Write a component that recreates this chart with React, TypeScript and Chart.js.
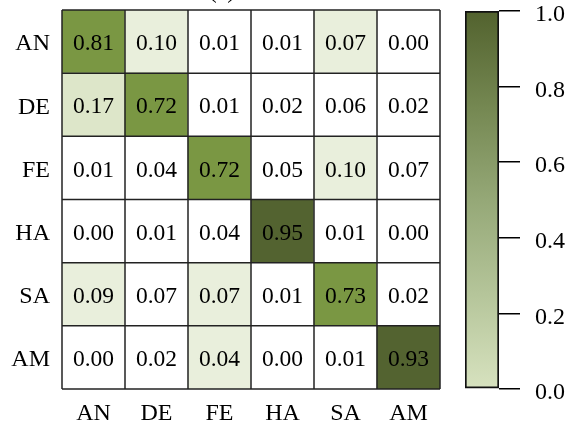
import React, { useEffect, useRef } from "react";
import { Chart, registerables } from "chart.js";

Chart.register(...registerables);

const rowLabels = ["AN", "DE", "FE", "HA", "SA", "AM"];
const colLabels = ["AN", "DE", "FE", "HA", "SA", "AM"];

const values: number[][] = [
  [0.81, 0.10, 0.01, 0.01, 0.07, 0.00],
  [0.17, 0.72, 0.01, 0.02, 0.06, 0.02],
  [0.01, 0.04, 0.72, 0.05, 0.10, 0.07],
  [0.00, 0.01, 0.04, 0.95, 0.01, 0.00],
  [0.09, 0.07, 0.07, 0.01, 0.73, 0.02],
  [0.00, 0.02, 0.04, 0.00, 0.01, 0.93],
];

// shade level of each cell as seen in the picture
const shades: number[][] = [
  [3, 1, 0, 0, 1, 0],
  [2, 3, 0, 0, 0, 0],
  [0, 0, 3, 0, 1, 0],
  [0, 0, 0, 4, 0, 0],
  [1, 0, 1, 0, 3, 0],
  [0, 0, 1, 0, 0, 4],
];
const shadeColors = ["#ffffff", "#e9efdc", "#dde6c9", "#7a9743", "#536330"];

const cbTicks = [0, 0.2, 0.4, 0.6, 0.8, 1.0];
const cbStops: [number, string][] = [
  [0, "#d7e2bf"],
  [0.25, "#b5c59a"],
  [0.5, "#95a877"],
  [0.75, "#748751"],
  [1, "#52622e"],
];

const FONT = "Liberation Serif";

export default function App() {
  const heatRef = useRef<HTMLCanvasElement>(null);
  const cbRef = useRef<HTMLCanvasElement>(null);

  useEffect(() => {
    const n = rowLabels.length;
    // datasets from bottom row to top row (stacked)
    const datasets = rowLabels
      .map((r, i) => ({
        label: r,
        data: colLabels.map(() => 1),
        vals: values[i],
        backgroundColor: shades[i].map((s) => shadeColors[s]),
        borderWidth: 0,
        barPercentage: 1,
        categoryPercentage: 1,
      }))
      .reverse();

    const gridPlugin = {
      id: "cellGrid",
      afterDatasetsDraw(chart: any) {
        const ctx = chart.ctx;
        const xs = chart.scales.x;
        const ys = chart.scales.y;
        ctx.save();
        // cell texts
        ctx.fillStyle = "#000";
        ctx.font = `23.5px "${FONT}"`;
        ctx.textAlign = "center";
        ctx.textBaseline = "middle";
        chart.data.datasets.forEach((ds: any, di: number) => {
          const meta = chart.getDatasetMeta(di);
          meta.data.forEach((bar: any, ci: number) => {
            const p = bar.getCenterPoint();
            ctx.fillText(ds.vals[ci].toFixed(2), p.x, p.y + 2.5);
          });
        });
        // cell borders
        ctx.strokeStyle = "#222";
        ctx.lineWidth = 1.5;
        const top = ys.getPixelForValue(n);
        const bot = ys.getPixelForValue(0);
        const left = xs.getPixelForValue(-0.5);
        const right = xs.getPixelForValue(colLabels.length - 0.5);
        for (let i = 0; i <= colLabels.length; i++) {
          const x = xs.getPixelForValue(i - 0.5);
          ctx.beginPath();
          ctx.moveTo(x, top);
          ctx.lineTo(x, bot);
          ctx.stroke();
        }
        for (let j = 0; j <= n; j++) {
          const y = ys.getPixelForValue(j);
          ctx.beginPath();
          ctx.moveTo(left, y);
          ctx.lineTo(right, y);
          ctx.stroke();
        }
        // title, cut by the top edge as in the source
        ctx.font = `24px "${FONT}"`;
        ctx.textBaseline = "alphabetic";
        ctx.fillText("(a)", 222, -2);
        ctx.restore();
      },
    };

    const heat = new Chart(heatRef.current!, {
      type: "bar",
      data: { labels: colLabels, datasets: datasets as any },
      options: {
        animation: false,
        responsive: false,
        layout: { padding: { top: 10, right: 10, left: 0, bottom: 0 } },
        plugins: { legend: { display: false }, tooltip: { enabled: false }, title: { display: false } },
        scales: {
          x: {
            type: "category",
            stacked: true,
            grid: { display: false, drawTicks: false },
            border: { display: false },
            ticks: { color: "#000", font: { family: FONT, size: 24 }, padding: 10, maxRotation: 0 },
            afterFit: (s: any) => {
              s.height = 37;
              s.paddingLeft = 0;
              s.paddingRight = 0;
            },
          },
          y: {
            type: "linear",
            stacked: true,
            min: 0,
            max: n,
            grid: { display: false, drawTicks: false },
            border: { display: false },
            afterBuildTicks: (s: any) => {
              s.ticks = rowLabels.map((_, i) => ({ value: i + 0.5 }));
            },
            ticks: {
              color: "#000",
              font: { family: FONT, size: 24 },
              padding: 12,
              labelOffset: 2.5,
              callback: (v: any) => rowLabels[n - 1 - Math.floor(Number(v))],
            },
            afterFit: (s: any) => {
              s.width = 62;
              s.paddingTop = 0;
              s.paddingBottom = 0;
            },
          },
        },
      },
      plugins: [gridPlugin],
    });

    const cb = new Chart(cbRef.current!, {
      type: "bar",
      data: {
        labels: ["cb"],
        datasets: [
          {
            data: [[cbTicks[0], cbTicks[cbTicks.length - 1]]] as any,
            backgroundColor: (c: any) => {
              const area = c.chart.chartArea;
              if (!area) return cbStops[0][1];
              const g = c.chart.ctx.createLinearGradient(0, area.bottom, 0, area.top);
              cbStops.forEach(([o, col]) => g.addColorStop(o, col));
              return g;
            },
            borderColor: "#111",
            borderWidth: 2,
            borderSkipped: false,
            barPercentage: 1,
            categoryPercentage: 1,
          },
        ],
      },
      options: {
        animation: false,
        responsive: false,
        layout: { padding: { top: 11, left: 25, bottom: 37, right: 0 } },
        plugins: { legend: { display: false }, tooltip: { enabled: false } },
        scales: {
          x: { display: false },
          y: {
            type: "linear",
            position: "right",
            min: 0,
            max: 1,
            afterBuildTicks: (s: any) => {
              s.ticks = cbTicks.map((v) => ({ value: v }));
            },
            grid: { display: true, drawOnChartArea: false, drawTicks: true, tickLength: 21, color: "#000", lineWidth: 1.5 },
            border: { display: false },
            ticks: {
              color: "#000",
              font: { family: FONT, size: 24 },
              padding: 15,
              labelOffset: 4,
              callback: (v: any) => Number(v).toFixed(1),
            },
            afterFit: (s: any) => {
              s.width = 73;
              s.paddingTop = 0;
              s.paddingBottom = 0;
            },
          },
        },
      },
    });

    return () => {
      heat.destroy();
      cb.destroy();
    };
  }, []);

  return (
    <div style={{ position: "fixed", left: 0, top: 0, width: 572, height: 426, background: "#fff" }}>
      <canvas ref={heatRef} width={450} height={426} style={{ position: "absolute", left: 0, top: 0, display: "block" }} />
      <canvas ref={cbRef} width={132} height={426} style={{ position: "absolute", left: 440, top: 0, display: "block" }} />
    </div>
  );
}
